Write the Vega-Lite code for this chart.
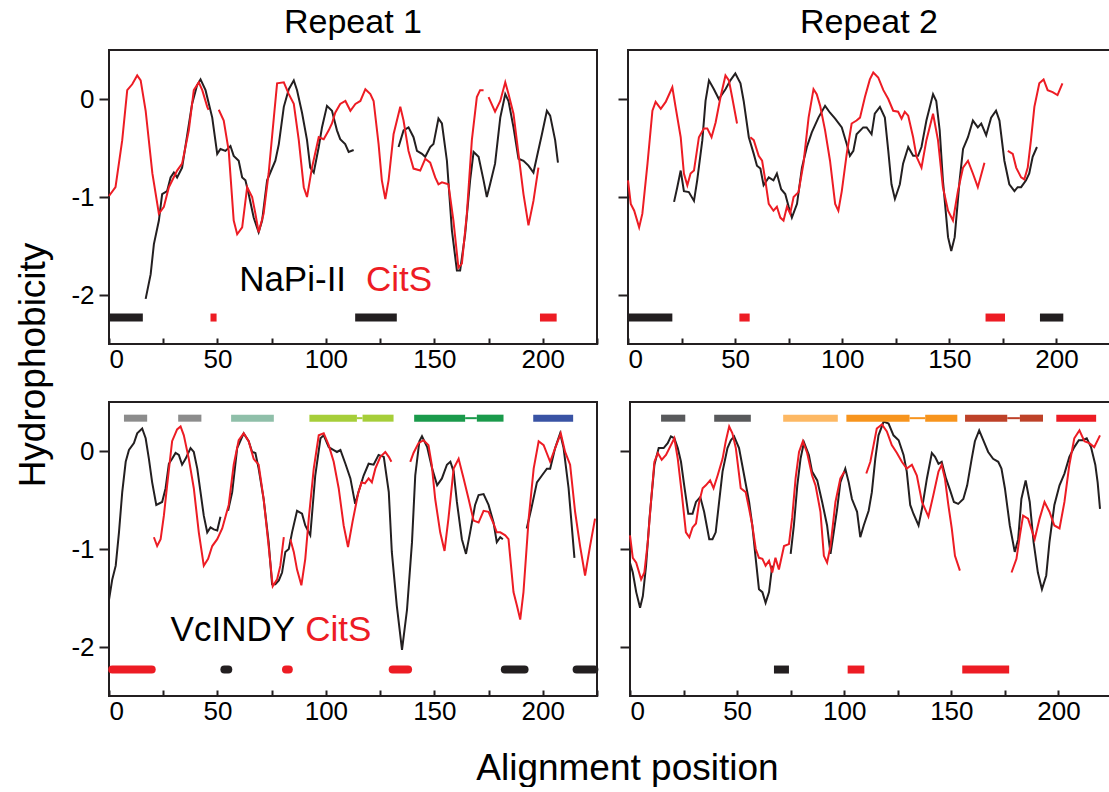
{
"$schema": "https://vega.github.io/schema/vega-lite/v6.json",
"background": "white",
"padding": {"left": 14, "top": 5, "right": 0, "bottom": 0},
"config": {
  "font": "Liberation Sans",
  "view": {"stroke": "#231f20", "strokeWidth": 2},
  "axis": {"grid": false, "domain": false, "labelFont": "Liberation Sans", "labelFontSize": 26, "labelColor": "#000", "tickColor": "#231f20", "tickWidth": 2, "labelOverlap": false},
  "title": {"font": "Liberation Sans", "fontWeight": "normal", "color": "#000"}
},
"datasets": {
"tl": [
{"g":"k1","x":16.9,"y":-2.04},{"g":"k1","x":19.2,"y":-1.79},{"g":"k1","x":20.7,"y":-1.48},{"g":"k1","x":23,"y":-1.24},{"g":"k1","x":24.5,"y":-0.97},{"g":"k1","x":26.8,"y":-0.94},{"g":"k1","x":28.4,"y":-0.8},{"g":"k1","x":29.9,"y":-0.75},{"g":"k1","x":31.4,"y":-0.8},{"g":"k1","x":33.7,"y":-0.7},{"g":"k1","x":36.1,"y":-0.36},{"g":"k1","x":38.3,"y":-0.05},{"g":"k1","x":40.6,"y":0.14},{"g":"k1","x":42.2,"y":0.2},{"g":"k1","x":44.5,"y":0.09},{"g":"k1","x":47.6,"y":-0.19},{"g":"k1","x":49.9,"y":-0.56},{"g":"k1","x":51.4,"y":-0.51},{"g":"k1","x":53.7,"y":-0.53},{"g":"k1","x":56,"y":-0.48},{"g":"k1","x":57.5,"y":-0.58},{"g":"k1","x":59.8,"y":-0.63},{"g":"k1","x":61.4,"y":-0.8},{"g":"k1","x":62.9,"y":-0.83},{"g":"k1","x":64.4,"y":-0.97},{"g":"k1","x":66.7,"y":-1.21},{"g":"k1","x":69,"y":-1.36},{"g":"k1","x":70.6,"y":-1.24},{"g":"k1","x":72.9,"y":-0.83},{"g":"k1","x":74.4,"y":-0.75},{"g":"k1","x":76.7,"y":-0.63},{"g":"k1","x":78.3,"y":-0.46},{"g":"k1","x":80.6,"y":-0.08},{"g":"k1","x":82.9,"y":0.1},{"g":"k1","x":85.2,"y":0.19},{"g":"k1","x":86.7,"y":0.09},{"g":"k1","x":89,"y":-0.14},{"g":"k1","x":91.3,"y":-0.42},{"g":"k1","x":92.8,"y":-0.7},{"g":"k1","x":94.4,"y":-0.75},{"g":"k1","x":96.7,"y":-0.49},{"g":"k1","x":98.2,"y":-0.29},{"g":"k1","x":100.5,"y":-0.07},{"g":"k1","x":102.8,"y":-0.12},{"g":"k1","x":105.1,"y":-0.32},{"g":"k1","x":106.6,"y":-0.41},{"g":"k1","x":108.9,"y":-0.46},{"g":"k1","x":110.5,"y":-0.54},{"g":"k1","x":112.8,"y":-0.52},
{"g":"k2","x":133.5,"y":-0.49},{"g":"k2","x":135.8,"y":-0.32},{"g":"k2","x":138.1,"y":-0.29},{"g":"k2","x":140.4,"y":-0.39},{"g":"k2","x":142,"y":-0.53},{"g":"k2","x":144.3,"y":-0.56},{"g":"k2","x":145.8,"y":-0.59},{"g":"k2","x":148.1,"y":-0.49},{"g":"k2","x":149.6,"y":-0.46},{"g":"k2","x":151.9,"y":-0.2},{"g":"k2","x":153.5,"y":-0.25},{"g":"k2","x":155.8,"y":-0.63},{"g":"k2","x":158.1,"y":-1.34},{"g":"k2","x":160.4,"y":-1.75},{"g":"k2","x":161.9,"y":-1.75},{"g":"k2","x":164.2,"y":-1.38},{"g":"k2","x":166.5,"y":-0.83},{"g":"k2","x":168.1,"y":-0.54},{"g":"k2","x":170.4,"y":-0.59},{"g":"k2","x":172.7,"y":-0.83},{"g":"k2","x":174.2,"y":-1.0},{"g":"k2","x":175.7,"y":-0.87},{"g":"k2","x":178,"y":-0.66},{"g":"k2","x":180.4,"y":-0.19},{"g":"k2","x":182.7,"y":0.05},{"g":"k2","x":184.2,"y":-0.02},{"g":"k2","x":186.5,"y":-0.29},{"g":"k2","x":188.8,"y":-0.61},{"g":"k2","x":191.1,"y":-0.63},{"g":"k2","x":193.4,"y":-0.68},{"g":"k2","x":195.7,"y":-0.75},{"g":"k2","x":197.3,"y":-0.59},{"g":"k2","x":199.6,"y":-0.36},{"g":"k2","x":201.9,"y":-0.12},{"g":"k2","x":203.4,"y":-0.17},{"g":"k2","x":205.7,"y":-0.42},{"g":"k2","x":207,"y":-0.65},
{"g":"r1","x":0,"y":-0.99},{"g":"r1","x":3,"y":-0.9},{"g":"r1","x":6.1,"y":-0.42},{"g":"r1","x":8.4,"y":0.09},{"g":"r1","x":10.7,"y":0.15},{"g":"r1","x":13,"y":0.24},{"g":"r1","x":14.6,"y":0.19},{"g":"r1","x":16.9,"y":-0.12},{"g":"r1","x":20,"y":-0.76},{"g":"r1","x":23,"y":-1.17},{"g":"r1","x":25.3,"y":-1.1},{"g":"r1","x":27.6,"y":-0.9},{"g":"r1","x":31.4,"y":-0.73},{"g":"r1","x":33.7,"y":-0.66},{"g":"r1","x":36.8,"y":-0.32},{"g":"r1","x":39.1,"y":0.09},{"g":"r1","x":41.4,"y":0.17},{"g":"r1","x":43,"y":0.09},{"g":"r1","x":45.3,"y":-0.08},{"g":"r1","x":45.9,"y":-0.11},
{"g":"r2","x":50.6,"y":-0.11},{"g":"r2","x":52.9,"y":-0.22},{"g":"r2","x":55.2,"y":-0.53},{"g":"r2","x":57.5,"y":-1.24},{"g":"r2","x":59.1,"y":-1.38},{"g":"r2","x":61.4,"y":-1.31},{"g":"r2","x":63.7,"y":-0.9},{"g":"r2","x":66,"y":-1.0},{"g":"r2","x":67.5,"y":-1.17},{"g":"r2","x":69,"y":-1.36},{"g":"r2","x":71.3,"y":-1.17},{"g":"r2","x":73.6,"y":-0.76},{"g":"r2","x":76,"y":-0.19},{"g":"r2","x":77.5,"y":0.16},{"g":"r2","x":80.6,"y":0.17},{"g":"r2","x":82.9,"y":0.05},{"g":"r2","x":85.2,"y":-0.05},{"g":"r2","x":87.5,"y":-0.42},{"g":"r2","x":89.8,"y":-0.9},{"g":"r2","x":91.3,"y":-1.0},{"g":"r2","x":93.6,"y":-0.7},{"g":"r2","x":96.7,"y":-0.39},{"g":"r2","x":99,"y":-0.41},{"g":"r2","x":101.3,"y":-0.32},{"g":"r2","x":102.8,"y":-0.25},{"g":"r2","x":104.3,"y":-0.14},{"g":"r2","x":106.6,"y":-0.05},{"g":"r2","x":109,"y":-0.02},{"g":"r2","x":111.3,"y":-0.12},{"g":"r2","x":113.6,"y":-0.05},{"g":"r2","x":115.9,"y":-0.02},{"g":"r2","x":118.2,"y":0.1},{"g":"r2","x":120.5,"y":0.05},{"g":"r2","x":122,"y":-0.02},{"g":"r2","x":124.3,"y":-0.46},{"g":"r2","x":125.8,"y":-0.83},{"g":"r2","x":127.4,"y":-1.02},{"g":"r2","x":128.9,"y":-0.83},{"g":"r2","x":131.2,"y":-0.36},{"g":"r2","x":134.3,"y":-0.08},{"g":"r2","x":135.8,"y":-0.22},{"g":"r2","x":138.1,"y":-0.53},{"g":"r2","x":140.4,"y":-0.71},{"g":"r2","x":143.5,"y":-0.73},{"g":"r2","x":145.8,"y":-0.61},{"g":"r2","x":148.1,"y":-0.65},{"g":"r2","x":150.4,"y":-0.8},{"g":"r2","x":151.9,"y":-0.87},{"g":"r2","x":153.5,"y":-0.85},{"g":"r2","x":156.5,"y":-0.87},{"g":"r2","x":158.8,"y":-1.24},{"g":"r2","x":161.1,"y":-1.72},{"g":"r2","x":162.7,"y":-1.68},{"g":"r2","x":165,"y":-1.17},{"g":"r2","x":167.3,"y":-0.42},{"g":"r2","x":169.6,"y":0.02},{"g":"r2","x":171.1,"y":0.09},{"g":"r2","x":172.7,"y":0.09},
{"g":"r3","x":175,"y":0.02},{"g":"r3","x":178,"y":-0.13},{"g":"r3","x":180.4,"y":-0.02},{"g":"r3","x":182.7,"y":0.17},{"g":"r3","x":184.2,"y":0.05},{"g":"r3","x":186.5,"y":-0.15},{"g":"r3","x":188.8,"y":-0.56},{"g":"r3","x":191.1,"y":-0.97},{"g":"r3","x":193.4,"y":-1.29},{"g":"r3","x":195.7,"y":-1.04},{"g":"r3","x":198,"y":-0.7}
],
"tr": [
{"g":"k1","x":21.5,"y":-1.05},{"g":"k1","x":23,"y":-0.9},{"g":"k1","x":24.6,"y":-0.73},{"g":"k1","x":26.1,"y":-0.94},{"g":"k1","x":28.4,"y":-0.95},{"g":"k1","x":30.8,"y":-1.04},{"g":"k1","x":32.3,"y":-0.83},{"g":"k1","x":34.7,"y":-0.42},{"g":"k1","x":36.2,"y":-0.02},{"g":"k1","x":37.8,"y":0.19},{"g":"k1","x":40.1,"y":0.1},{"g":"k1","x":42.4,"y":0.0},{"g":"k1","x":45.5,"y":0.1},{"g":"k1","x":47.8,"y":0.19},{"g":"k1","x":50.1,"y":0.26},{"g":"k1","x":52.5,"y":0.16},{"g":"k1","x":54,"y":-0.02},{"g":"k1","x":56.4,"y":-0.39},{"g":"k1","x":58.7,"y":-0.56},{"g":"k1","x":60.2,"y":-0.68},{"g":"k1","x":61.8,"y":-0.71},{"g":"k1","x":63.3,"y":-0.88},{"g":"k1","x":65.7,"y":-0.8},{"g":"k1","x":67.9,"y":-0.83},{"g":"k1","x":69.5,"y":-0.76},{"g":"k1","x":71.5,"y":-0.92},{"g":"k1","x":73.4,"y":-0.97},{"g":"k1","x":75,"y":-1.1},{"g":"k1","x":76.5,"y":-1.21},{"g":"k1","x":78.9,"y":-1.07},{"g":"k1","x":81.2,"y":-0.7},{"g":"k1","x":83.5,"y":-0.49},{"g":"k1","x":85.8,"y":-0.34},{"g":"k1","x":88.9,"y":-0.19},{"g":"k1","x":92,"y":-0.07},{"g":"k1","x":94.3,"y":-0.14},{"g":"k1","x":96.7,"y":-0.2},{"g":"k1","x":99.8,"y":-0.29},{"g":"k1","x":102.1,"y":-0.46},{"g":"k1","x":103.6,"y":-0.58},{"g":"k1","x":105.2,"y":-0.53},{"g":"k1","x":106.7,"y":-0.36},{"g":"k1","x":109.8,"y":-0.29},{"g":"k1","x":111.4,"y":-0.29},{"g":"k1","x":113.7,"y":-0.36},{"g":"k1","x":115.2,"y":-0.15},{"g":"k1","x":117.6,"y":-0.08},{"g":"k1","x":119.9,"y":-0.19},{"g":"k1","x":121.5,"y":-0.53},{"g":"k1","x":123,"y":-0.87},{"g":"k1","x":124.6,"y":-1.02},{"g":"k1","x":126.9,"y":-0.87},{"g":"k1","x":128.4,"y":-0.66},{"g":"k1","x":130.8,"y":-0.49},{"g":"k1","x":133.1,"y":-0.58},{"g":"k1","x":135.4,"y":-0.58},{"g":"k1","x":137,"y":-0.49},{"g":"k1","x":139.3,"y":-0.22},{"g":"k1","x":142.4,"y":0.05},{"g":"k1","x":143.9,"y":-0.02},{"g":"k1","x":145.5,"y":-0.32},{"g":"k1","x":147,"y":-0.83},{"g":"k1","x":149.4,"y":-1.41},{"g":"k1","x":150.9,"y":-1.55},{"g":"k1","x":152.5,"y":-1.41},{"g":"k1","x":154.8,"y":-0.83},{"g":"k1","x":156.4,"y":-0.51},{"g":"k1","x":158.7,"y":-0.39},{"g":"k1","x":161,"y":-0.22},{"g":"k1","x":163.3,"y":-0.29},{"g":"k1","x":164.9,"y":-0.25},{"g":"k1","x":167.2,"y":-0.37},{"g":"k1","x":169.5,"y":-0.19},{"g":"k1","x":171.8,"y":-0.12},{"g":"k1","x":173.4,"y":-0.22},{"g":"k1","x":175.7,"y":-0.63},{"g":"k1","x":178,"y":-0.87},{"g":"k1","x":180.4,"y":-0.94},{"g":"k1","x":181.9,"y":-0.9},{"g":"k1","x":183.5,"y":-0.9},{"g":"k1","x":185.8,"y":-0.83},{"g":"k1","x":187.3,"y":-0.76},{"g":"k1","x":188.9,"y":-0.59},{"g":"k1","x":190.9,"y":-0.49},
{"g":"r1","x":0,"y":-0.83},{"g":"r1","x":1.3,"y":-1.07},{"g":"r1","x":2.9,"y":-1.14},{"g":"r1","x":5.2,"y":-1.31},{"g":"r1","x":6.7,"y":-1.17},{"g":"r1","x":9.1,"y":-0.66},{"g":"r1","x":11.4,"y":-0.12},{"g":"r1","x":12.9,"y":-0.03},{"g":"r1","x":15.3,"y":-0.1},{"g":"r1","x":17.6,"y":-0.03},{"g":"r1","x":20.7,"y":0.12},{"g":"r1","x":22.2,"y":-0.08},{"g":"r1","x":24.6,"y":-0.39},{"g":"r1","x":26.1,"y":-0.76},{"g":"r1","x":27.7,"y":-0.88},{"g":"r1","x":29.2,"y":-0.76},{"g":"r1","x":30.8,"y":-0.73},{"g":"r1","x":33.1,"y":-0.39},{"g":"r1","x":35.4,"y":-0.3},{"g":"r1","x":37,"y":-0.3},{"g":"r1","x":39,"y":-0.39},{"g":"r1","x":40.9,"y":-0.24},{"g":"r1","x":43.2,"y":0.02},{"g":"r1","x":45.5,"y":0.24},{"g":"r1","x":47.1,"y":0.19},{"g":"r1","x":48.6,"y":0.02},{"g":"r1","x":50.9,"y":-0.25},
{"g":"r2","x":57.1,"y":-0.39},{"g":"r2","x":58.7,"y":-0.42},{"g":"r2","x":61,"y":-0.58},{"g":"r2","x":62.6,"y":-0.63},{"g":"r2","x":64.1,"y":-0.83},{"g":"r2","x":65.7,"y":-1.07},{"g":"r2","x":67.9,"y":-1.14},{"g":"r2","x":69.5,"y":-1.1},{"g":"r2","x":71.1,"y":-1.21},{"g":"r2","x":72.6,"y":-1.24},{"g":"r2","x":74.2,"y":-1.1},{"g":"r2","x":75.7,"y":-1.17},{"g":"r2","x":77.3,"y":-1.0},{"g":"r2","x":79.6,"y":-0.95},{"g":"r2","x":81.9,"y":-0.66},{"g":"r2","x":84.3,"y":-0.19},{"g":"r2","x":86.6,"y":0.1},{"g":"r2","x":88.1,"y":0.05},{"g":"r2","x":89.7,"y":-0.07},{"g":"r2","x":92,"y":-0.32},{"g":"r2","x":94.3,"y":-0.63},{"g":"r2","x":96.7,"y":-1.07},{"g":"r2","x":98.2,"y":-1.14},{"g":"r2","x":99.8,"y":-0.94},{"g":"r2","x":102.1,"y":-0.56},{"g":"r2","x":104.4,"y":-0.25},{"g":"r2","x":106.7,"y":-0.22},{"g":"r2","x":108.3,"y":-0.19},{"g":"r2","x":110.6,"y":0.02},{"g":"r2","x":112.9,"y":0.2},{"g":"r2","x":114.5,"y":0.27},{"g":"r2","x":116.8,"y":0.22},{"g":"r2","x":119.2,"y":0.09},{"g":"r2","x":121.5,"y":0.0},{"g":"r2","x":123.8,"y":-0.12},{"g":"r2","x":126.1,"y":-0.13},{"g":"r2","x":127.7,"y":-0.2},{"g":"r2","x":129.2,"y":-0.13},{"g":"r2","x":130.8,"y":-0.17},{"g":"r2","x":133.1,"y":-0.39},{"g":"r2","x":134.7,"y":-0.59},{"g":"r2","x":137,"y":-0.7},{"g":"r2","x":139.3,"y":-0.42},{"g":"r2","x":142.4,"y":-0.15},{"g":"r2","x":144.7,"y":-0.42},{"g":"r2","x":147,"y":-0.9},{"g":"r2","x":149.4,"y":-1.14},{"g":"r2","x":151.7,"y":-1.24},{"g":"r2","x":154,"y":-0.94},{"g":"r2","x":156.4,"y":-0.7},{"g":"r2","x":158.7,"y":-0.63},{"g":"r2","x":161,"y":-0.76},{"g":"r2","x":163.3,"y":-0.9},{"g":"r2","x":166.4,"y":-0.65},
{"g":"r3","x":177.3,"y":-0.53},{"g":"r3","x":179.6,"y":-0.56},{"g":"r3","x":181.2,"y":-0.7},{"g":"r3","x":183.5,"y":-0.8},{"g":"r3","x":185,"y":-0.82},{"g":"r3","x":186.6,"y":-0.7},{"g":"r3","x":188.1,"y":-0.42},{"g":"r3","x":189.7,"y":-0.08},{"g":"r3","x":192,"y":0.16},{"g":"r3","x":194,"y":0.2},{"g":"r3","x":195.9,"y":0.09},{"g":"r3","x":198.2,"y":0.07},{"g":"r3","x":200.5,"y":0.04},{"g":"r3","x":202.8,"y":0.16}
],
"bl": [
{"g":"k1","x":0,"y":-1.52},{"g":"k1","x":1.5,"y":-1.31},{"g":"k1","x":3.1,"y":-1.17},{"g":"k1","x":4.6,"y":-0.83},{"g":"k1","x":6.1,"y":-0.42},{"g":"k1","x":7.7,"y":-0.11},{"g":"k1","x":9.2,"y":0.01},{"g":"k1","x":11.5,"y":0.08},{"g":"k1","x":13,"y":0.18},{"g":"k1","x":15.3,"y":0.23},{"g":"k1","x":16.9,"y":0.13},{"g":"k1","x":18.4,"y":-0.08},{"g":"k1","x":19.9,"y":-0.32},{"g":"k1","x":21.8,"y":-0.55},{"g":"k1","x":24.5,"y":-0.52},{"g":"k1","x":26.1,"y":-0.38},{"g":"k1","x":27.6,"y":-0.13},{"g":"k1","x":29.1,"y":-0.08},{"g":"k1","x":30.7,"y":-0.02},{"g":"k1","x":32.2,"y":-0.04},{"g":"k1","x":33.7,"y":-0.14},{"g":"k1","x":35.3,"y":-0.08},{"g":"k1","x":37.6,"y":0.03},{"g":"k1","x":39.1,"y":-0.01},{"g":"k1","x":40.7,"y":-0.18},{"g":"k1","x":42.2,"y":-0.42},{"g":"k1","x":43.7,"y":-0.66},{"g":"k1","x":45.3,"y":-0.83},{"g":"k1","x":46.8,"y":-0.78},{"g":"k1","x":48.3,"y":-0.8},{"g":"k1","x":49.9,"y":-0.81},{"g":"k1","x":51.4,"y":-0.67},
{"g":"k2","x":54.9,"y":-0.61},{"g":"k2","x":56.8,"y":-0.42},{"g":"k2","x":59.1,"y":0.03},{"g":"k2","x":62.1,"y":0.18},{"g":"k2","x":64.4,"y":0.1},{"g":"k2","x":66,"y":-0.01},{"g":"k2","x":67.5,"y":-0.02},{"g":"k2","x":69,"y":-0.18},{"g":"k2","x":71.3,"y":-0.49},{"g":"k2","x":73.6,"y":-0.93},{"g":"k2","x":75.2,"y":-1.36},{"g":"k2","x":76.7,"y":-1.36},{"g":"k2","x":78.3,"y":-1.32},{"g":"k2","x":79.8,"y":-1.24},{"g":"k2","x":81.3,"y":-1.03},{"g":"k2","x":82.9,"y":-1.0},{"g":"k2","x":84.4,"y":-0.83},{"g":"k2","x":86.7,"y":-0.61},{"g":"k2","x":89,"y":-0.64},{"g":"k2","x":90.5,"y":-0.76},{"g":"k2","x":92.8,"y":-0.86},{"g":"k2","x":95.1,"y":-0.25},{"g":"k2","x":97.5,"y":0.13},{"g":"k2","x":99,"y":0.16},{"g":"k2","x":101.3,"y":0.04},{"g":"k2","x":103.6,"y":0.01},{"g":"k2","x":105.1,"y":-0.01},{"g":"k2","x":106.7,"y":0.01},{"g":"k2","x":109,"y":-0.13},{"g":"k2","x":111.3,"y":-0.28},{"g":"k2","x":113.5,"y":-0.54},{"g":"k2","x":115,"y":-0.42},{"g":"k2","x":117.4,"y":-0.25},{"g":"k2","x":119.7,"y":-0.13},{"g":"k2","x":122,"y":-0.14},{"g":"k2","x":124.3,"y":-0.04},{"g":"k2","x":126.7,"y":-0.06},{"g":"k2","x":129,"y":-0.42},{"g":"k2","x":130.4,"y":-1.03},{"g":"k2","x":132.7,"y":-1.58},{"g":"k2","x":135.1,"y":-2.03},{"g":"k2","x":137.4,"y":-1.62},{"g":"k2","x":139.7,"y":-0.93},{"g":"k2","x":141.2,"y":-0.25},{"g":"k2","x":143.1,"y":0.1},{"g":"k2","x":144.3,"y":0.15},{"g":"k2","x":146.7,"y":0.04},{"g":"k2","x":149,"y":-0.18},{"g":"k2","x":151.3,"y":-0.35},{"g":"k2","x":153.5,"y":-0.28},{"g":"k2","x":155.8,"y":-0.14},{"g":"k2","x":157.4,"y":-0.11},{"g":"k2","x":158.9,"y":-0.21},{"g":"k2","x":160.4,"y":-0.52},{"g":"k2","x":162.7,"y":-0.9},{"g":"k2","x":164.6,"y":-1.05},{"g":"k2","x":166.5,"y":-0.83},{"g":"k2","x":168.8,"y":-0.55},{"g":"k2","x":170.4,"y":-0.45},{"g":"k2","x":172.7,"y":-0.44},{"g":"k2","x":175,"y":-0.55},{"g":"k2","x":177.3,"y":-0.73},{"g":"k2","x":178.8,"y":-0.93},{"g":"k2","x":180.4,"y":-0.88},{"g":"k2","x":181.6,"y":-0.9},
{"g":"k3","x":192.6,"y":-0.79},{"g":"k3","x":194.9,"y":-0.57},{"g":"k3","x":197.3,"y":-0.32},{"g":"k3","x":199.6,"y":-0.25},{"g":"k3","x":201.9,"y":-0.18},{"g":"k3","x":203.4,"y":-0.18},{"g":"k3","x":205.7,"y":0.03},{"g":"k3","x":208,"y":0.18},{"g":"k3","x":209.6,"y":0.03},{"g":"k3","x":211.9,"y":-0.38},{"g":"k3","x":214.6,"y":-1.09},
{"g":"r1","x":20.7,"y":-0.88},{"g":"r1","x":22.2,"y":-0.97},{"g":"r1","x":23.8,"y":-0.9},{"g":"r1","x":25.3,"y":-0.66},{"g":"r1","x":26.8,"y":-0.35},{"g":"r1","x":29.1,"y":0.1},{"g":"r1","x":31.4,"y":0.22},{"g":"r1","x":33,"y":0.25},{"g":"r1","x":34.5,"y":0.16},{"g":"r1","x":36.8,"y":-0.08},{"g":"r1","x":39.1,"y":-0.38},{"g":"r1","x":41.4,"y":-0.83},{"g":"r1","x":43.7,"y":-1.17},{"g":"r1","x":45.7,"y":-1.1},{"g":"r1","x":47.6,"y":-0.97},{"g":"r1","x":49.9,"y":-0.9},{"g":"r1","x":52.2,"y":-0.79},{"g":"r1","x":55.2,"y":-0.55},{"g":"r1","x":57.5,"y":-0.14},{"g":"r1","x":59.8,"y":0.11},{"g":"r1","x":62.1,"y":0.18},{"g":"r1","x":64.4,"y":0.1},{"g":"r1","x":66.7,"y":-0.08},{"g":"r1","x":69,"y":-0.14},{"g":"r1","x":71.3,"y":-0.49},{"g":"r1","x":73.6,"y":-0.97},{"g":"r1","x":75.5,"y":-1.38},{"g":"r1","x":77.5,"y":-1.31},{"g":"r1","x":79,"y":-1.17},{"g":"r1","x":80.6,"y":-0.88},
{"g":"r2","x":83.6,"y":-0.9},{"g":"r2","x":85.2,"y":-1.03},{"g":"r2","x":86.7,"y":-1.21},{"g":"r2","x":88.7,"y":-1.37},{"g":"r2","x":90.5,"y":-1.1},{"g":"r2","x":92.1,"y":-0.69},{"g":"r2","x":94.4,"y":-0.18},{"g":"r2","x":96.7,"y":0.16},{"g":"r2","x":99,"y":0.18},{"g":"r2","x":101.3,"y":0.06},{"g":"r2","x":103.6,"y":-0.11},{"g":"r2","x":105.9,"y":-0.38},{"g":"r2","x":108.2,"y":-0.76},{"g":"r2","x":110.2,"y":-0.98},{"g":"r2","x":112.3,"y":-0.72},{"g":"r2","x":115,"y":-0.42},{"g":"r2","x":116.5,"y":-0.32},{"g":"r2","x":118,"y":-0.33},{"g":"r2","x":119.7,"y":-0.28},{"g":"r2","x":121.2,"y":-0.32},{"g":"r2","x":122.8,"y":-0.18},{"g":"r2","x":125.1,"y":-0.06},{"g":"r2","x":127.4,"y":-0.01},{"g":"r2","x":129,"y":-0.06},{"g":"r2","x":130.2,"y":-0.11},
{"g":"r3","x":138.9,"y":-0.11},{"g":"r3","x":140.4,"y":-0.02},{"g":"r3","x":142.7,"y":0.08},{"g":"r3","x":145,"y":0.11},{"g":"r3","x":147.3,"y":0.06},{"g":"r3","x":148.8,"y":-0.14},{"g":"r3","x":150.4,"y":-0.49},{"g":"r3","x":152.7,"y":-0.83},{"g":"r3","x":154.7,"y":-1.02},{"g":"r3","x":156.5,"y":-0.69},{"g":"r3","x":158.9,"y":-0.18},{"g":"r3","x":161.2,"y":-0.08},{"g":"r3","x":163.5,"y":-0.28},{"g":"r3","x":165.8,"y":-0.49},{"g":"r3","x":168.1,"y":-0.71},{"g":"r3","x":170.4,"y":-0.73},{"g":"r3","x":172.7,"y":-0.61},{"g":"r3","x":175,"y":-0.62},{"g":"r3","x":177.3,"y":-0.74},{"g":"r3","x":178.8,"y":-0.83},{"g":"r3","x":180.4,"y":-0.83},{"g":"r3","x":182.7,"y":-0.86},{"g":"r3","x":184.2,"y":-0.9},{"g":"r3","x":186.5,"y":-1.44},{"g":"r3","x":188.1,"y":-1.58},{"g":"r3","x":189.6,"y":-1.72},{"g":"r3","x":191.1,"y":-1.44},{"g":"r3","x":193.5,"y":-0.69},{"g":"r3","x":195.8,"y":-0.18},{"g":"r3","x":198.1,"y":0.1},{"g":"r3","x":200.4,"y":0.06},{"g":"r3","x":203.4,"y":-0.11},{"g":"r3","x":205.7,"y":0.03},{"g":"r3","x":208.3,"y":0.18},{"g":"r3","x":210.3,"y":-0.01},{"g":"r3","x":212.6,"y":-0.14},{"g":"r3","x":214.9,"y":-0.62},{"g":"r3","x":217.2,"y":-0.97},{"g":"r3","x":219.5,"y":-1.27},{"g":"r3","x":221.8,"y":-0.97},{"g":"r3","x":224.1,"y":-0.69}
],
"br": [
{"g":"k1","x":0,"y":-1.14},{"g":"k1","x":1.3,"y":-1.24},{"g":"k1","x":2.9,"y":-1.44},{"g":"k1","x":4.7,"y":-1.6},{"g":"k1","x":6,"y":-1.48},{"g":"k1","x":7.5,"y":-1.17},{"g":"k1","x":9.1,"y":-0.69},{"g":"k1","x":11.4,"y":-0.14},{"g":"k1","x":13.4,"y":0.03},{"g":"k1","x":15.7,"y":0.03},{"g":"k1","x":17.6,"y":0.08},{"g":"k1","x":19.1,"y":0.15},{"g":"k1","x":20.7,"y":0.13},{"g":"k1","x":22.3,"y":0.03},{"g":"k1","x":23.8,"y":-0.11},{"g":"k1","x":25.3,"y":-0.35},{"g":"k1","x":27.2,"y":-0.64},{"g":"k1","x":29.2,"y":-0.64},{"g":"k1","x":30.8,"y":-0.52},{"g":"k1","x":32.8,"y":-0.47},{"g":"k1","x":34.6,"y":-0.62},{"g":"k1","x":37,"y":-0.9},{"g":"k1","x":38.5,"y":-0.9},{"g":"k1","x":40,"y":-0.83},{"g":"k1","x":41.6,"y":-0.52},{"g":"k1","x":43.2,"y":-0.21},{"g":"k1","x":45.5,"y":0.03},{"g":"k1","x":47.1,"y":0.11},{"g":"k1","x":48.6,"y":0.15},{"g":"k1","x":50.9,"y":0.03},{"g":"k1","x":53.3,"y":-0.25},{"g":"k1","x":55.6,"y":-0.52},{"g":"k1","x":57.1,"y":-0.76},{"g":"k1","x":58.7,"y":-1.1},{"g":"k1","x":60.2,"y":-1.41},{"g":"k1","x":61.8,"y":-1.44},{"g":"k1","x":63.3,"y":-1.55},{"g":"k1","x":64.9,"y":-1.44},{"g":"k1","x":66.4,"y":-1.17},
{"g":"k2","x":75,"y":-1.05},{"g":"k2","x":76.5,"y":-0.76},{"g":"k2","x":78.1,"y":-0.35},{"g":"k2","x":79.6,"y":-0.08},{"g":"k2","x":81.2,"y":0.09},{"g":"k2","x":83.5,"y":-0.04},{"g":"k2","x":85,"y":-0.21},{"g":"k2","x":87.4,"y":-0.3},{"g":"k2","x":89.7,"y":-0.52},{"g":"k2","x":92,"y":-0.76},{"g":"k2","x":93.6,"y":-1.05},{"g":"k2","x":95.1,"y":-0.83},{"g":"k2","x":96.7,"y":-0.59},{"g":"k2","x":98.2,"y":-0.32},{"g":"k2","x":100.5,"y":-0.18},{"g":"k2","x":102.1,"y":-0.32},{"g":"k2","x":103.6,"y":-0.49},{"g":"k2","x":106,"y":-0.62},{"g":"k2","x":107.5,"y":-0.88},{"g":"k2","x":109.1,"y":-0.76},{"g":"k2","x":111.4,"y":-0.61},{"g":"k2","x":112.9,"y":-0.42},{"g":"k2","x":114.5,"y":-0.08},{"g":"k2","x":116,"y":0.16},{"g":"k2","x":118.4,"y":0.3},{"g":"k2","x":120.7,"y":0.28},{"g":"k2","x":123,"y":0.16},{"g":"k2","x":125.4,"y":0.11},{"g":"k2","x":127.7,"y":-0.04},{"g":"k2","x":129.2,"y":-0.21},{"g":"k2","x":130.8,"y":-0.55},{"g":"k2","x":132.3,"y":-0.64},{"g":"k2","x":134.7,"y":-0.76},{"g":"k2","x":136.3,"y":-0.59},{"g":"k2","x":138.6,"y":-0.28},{"g":"k2","x":140.9,"y":-0.02},{"g":"k2","x":142.4,"y":-0.06},{"g":"k2","x":144,"y":-0.13},{"g":"k2","x":145.5,"y":-0.11},{"g":"k2","x":147.5,"y":-0.28},{"g":"k2","x":149.4,"y":-0.4},{"g":"k2","x":151.2,"y":-0.52},{"g":"k2","x":153.2,"y":-0.54},{"g":"k2","x":155.6,"y":-0.49},{"g":"k2","x":157.4,"y":-0.35},{"g":"k2","x":159.5,"y":-0.08},{"g":"k2","x":161,"y":0.1},{"g":"k2","x":163,"y":0.21},{"g":"k2","x":164.9,"y":0.11},{"g":"k2","x":167.2,"y":-0.01},{"g":"k2","x":169.5,"y":-0.08},{"g":"k2","x":171.9,"y":-0.11},{"g":"k2","x":173.4,"y":-0.18},{"g":"k2","x":175,"y":-0.38},{"g":"k2","x":177.3,"y":-0.76},{"g":"k2","x":179.6,"y":-1.03},{"g":"k2","x":181.2,"y":-0.9},{"g":"k2","x":182.7,"y":-0.49},{"g":"k2","x":184.7,"y":-0.3},{"g":"k2","x":186.6,"y":-0.52},{"g":"k2","x":188.4,"y":-0.93},{"g":"k2","x":190.4,"y":-1.24},{"g":"k2","x":192.3,"y":-1.41},{"g":"k2","x":194.3,"y":-1.27},{"g":"k2","x":195.8,"y":-0.93},{"g":"k2","x":198.1,"y":-0.55},{"g":"k2","x":200.5,"y":-0.35},{"g":"k2","x":202.8,"y":-0.23},{"g":"k2","x":205.1,"y":-0.06},{"g":"k2","x":207.4,"y":0.04},{"g":"k2","x":209.5,"y":0.11},{"g":"k2","x":211.3,"y":0.11},{"g":"k2","x":213.2,"y":0.13},{"g":"k2","x":215.2,"y":0.04},{"g":"k2","x":217.2,"y":-0.14},{"g":"k2","x":218.3,"y":-0.32},{"g":"k2","x":219.4,"y":-0.59},
{"g":"r1","x":0,"y":-0.86},{"g":"r1","x":1.3,"y":-1.09},{"g":"r1","x":2.9,"y":-1.14},{"g":"r1","x":5.2,"y":-1.31},{"g":"r1","x":6.7,"y":-1.24},{"g":"r1","x":8.3,"y":-0.93},{"g":"r1","x":9.9,"y":-0.49},{"g":"r1","x":11.4,"y":-0.11},{"g":"r1","x":13,"y":-0.02},{"g":"r1","x":14.8,"y":-0.09},{"g":"r1","x":16.8,"y":-0.04},{"g":"r1","x":19.1,"y":0.06},{"g":"r1","x":20.7,"y":0.13},{"g":"r1","x":22.3,"y":-0.08},{"g":"r1","x":24.1,"y":-0.42},{"g":"r1","x":26.1,"y":-0.83},{"g":"r1","x":27.7,"y":-0.88},{"g":"r1","x":29.2,"y":-0.78},{"g":"r1","x":30.8,"y":-0.74},{"g":"r1","x":32.3,"y":-0.52},{"g":"r1","x":33.9,"y":-0.38},{"g":"r1","x":35.4,"y":-0.35},{"g":"r1","x":37.4,"y":-0.3},{"g":"r1","x":39,"y":-0.38},{"g":"r1","x":40.9,"y":-0.25},{"g":"r1","x":43.2,"y":-0.08},{"g":"r1","x":44.7,"y":0.1},{"g":"r1","x":46.3,"y":0.25},{"g":"r1","x":47.8,"y":0.18},{"g":"r1","x":49.4,"y":0.03},{"g":"r1","x":51.7,"y":-0.38},{"g":"r1","x":54,"y":-0.42},{"g":"r1","x":55.6,"y":-0.59},{"g":"r1","x":57.1,"y":-0.76},{"g":"r1","x":58.7,"y":-1.0},{"g":"r1","x":60.2,"y":-1.09},{"g":"r1","x":61.8,"y":-1.1},{"g":"r1","x":63.3,"y":-1.17},{"g":"r1","x":64.9,"y":-1.12},{"g":"r1","x":66.4,"y":-1.24},{"g":"r1","x":67.9,"y":-1.09},{"g":"r1","x":69.5,"y":-1.21},{"g":"r1","x":71.9,"y":-0.97},{"g":"r1","x":74.2,"y":-0.95},{"g":"r1","x":75.7,"y":-0.68},{"g":"r1","x":77.3,"y":-0.28},{"g":"r1","x":78.9,"y":-0.01},{"g":"r1","x":80.7,"y":0.1},{"g":"r1","x":82.7,"y":-0.02},{"g":"r1","x":85,"y":-0.25},{"g":"r1","x":86.6,"y":-0.35},{"g":"r1","x":88.9,"y":-0.62},{"g":"r1","x":90.5,"y":-1.07},{"g":"r1","x":92,"y":-1.14},{"g":"r1","x":93.6,"y":-0.97},{"g":"r1","x":95.9,"y":-0.52},{"g":"r1","x":98.2,"y":-0.28},{"g":"r1","x":100.1,"y":-0.21},
{"g":"r2","x":110.3,"y":-0.23},{"g":"r2","x":112.2,"y":-0.11},{"g":"r2","x":113.7,"y":0.06},{"g":"r2","x":115.2,"y":0.23},{"g":"r2","x":117.6,"y":0.27},{"g":"r2","x":119.9,"y":0.2},{"g":"r2","x":122.2,"y":0.06},{"g":"r2","x":124.6,"y":-0.02},{"g":"r2","x":126.9,"y":-0.11},{"g":"r2","x":129.2,"y":-0.18},{"g":"r2","x":131.6,"y":-0.14},{"g":"r2","x":133.9,"y":-0.25},{"g":"r2","x":136.3,"y":-0.52},{"g":"r2","x":139.3,"y":-0.67},{"g":"r2","x":141.6,"y":-0.45},{"g":"r2","x":144,"y":-0.21},{"g":"r2","x":145.5,"y":-0.14},{"g":"r2","x":147,"y":-0.28},{"g":"r2","x":148.6,"y":-0.55},{"g":"r2","x":150.2,"y":-0.79},{"g":"r2","x":151.7,"y":-1.07},{"g":"r2","x":154,"y":-1.22},
{"g":"r3","x":178.1,"y":-1.24},{"g":"r3","x":180.4,"y":-1.1},{"g":"r3","x":182,"y":-0.86},{"g":"r3","x":183.5,"y":-0.66},{"g":"r3","x":185.8,"y":-0.69},{"g":"r3","x":188.9,"y":-0.9},{"g":"r3","x":191.2,"y":-0.69},{"g":"r3","x":193.5,"y":-0.52},{"g":"r3","x":195.8,"y":-0.62},{"g":"r3","x":198.1,"y":-0.76},{"g":"r3","x":200.5,"y":-0.79},{"g":"r3","x":202.8,"y":-0.52},{"g":"r3","x":205.1,"y":-0.14},{"g":"r3","x":207.4,"y":0.13},{"g":"r3","x":209.8,"y":0.21},{"g":"r3","x":212.1,"y":0.1},{"g":"r3","x":214.4,"y":0.08},{"g":"r3","x":216.7,"y":0.04},{"g":"r3","x":219.4,"y":0.16}
],
"tlb": [{"g":"k","a":0,"b":15.6},{"g":"r","a":46.8,"b":49.6},{"g":"k","a":113.5,"b":132.7},{"g":"r","a":198.7,"b":206.4}],
"trb": [{"g":"k","a":0,"b":20.7},{"g":"r","a":52,"b":56.8},{"g":"r","a":166.9,"b":176},{"g":"k","a":192.3,"b":203.2}],
"blb": [{"g":"r","a":1.5,"b":19.7},{"g":"k","a":53.2,"b":55},{"g":"r","a":81.6,"b":82.9},{"g":"r","a":130.8,"b":137.9},{"g":"k","a":182.5,"b":191.6},{"g":"k","a":215.6,"b":223.8}],
"brb": [{"g":"k","a":67.2,"b":74.2},{"g":"r","a":101.6,"b":109.4},{"g":"r","a":155.1,"b":177}],
"blt": [{"c":"gray","k":"bar","a":6.9,"b":17.6},{"c":"gray","k":"bar","a":31.9,"b":42.6},{"c":"teal","k":"bar","a":56.3,"b":76},{"c":"lgreen","k":"bar","a":92.4,"b":114.3},{"c":"lgreen","k":"link","a":114.3,"b":116.9},{"c":"lgreen","k":"bar","a":116.9,"b":131.2},{"c":"dgreen","k":"bar","a":140.7,"b":164.2},{"c":"dgreen","k":"link","a":164.2,"b":169.6},{"c":"dgreen","k":"bar","a":169.6,"b":181.9},{"c":"blue","k":"bar","a":195.6,"b":214}],
"brt": [{"c":"dgray","k":"bar","a":14.5,"b":25.8},{"c":"dgray","k":"bar","a":39.3,"b":56.4},{"c":"lorange","k":"bar","a":71.5,"b":97},{"c":"orange","k":"bar","a":101,"b":130.5},{"c":"orange","k":"link","a":130.5,"b":137.8},{"c":"orange","k":"bar","a":137.8,"b":152.8},{"c":"brown","k":"bar","a":156.4,"b":176.1},{"c":"brown","k":"link","a":176.1,"b":182},{"c":"brown","k":"bar","a":182,"b":192.8},{"c":"red","k":"bar","a":199,"b":217.6}],
"tlt": [{"t":"NaPi-II","g":"k","x":60,"y":-1.96},{"t":"CitS","g":"r","x":118.5,"y":-1.96}],
"blx": [{"t":"VcINDY","g":"k","x":28.4,"y":-1.94},{"t":"CitS","g":"r","x":90.5,"y":-1.94}]
},
"title": {"text": "Alignment position", "orient": "bottom", "anchor": "middle", "fontSize": 37, "offset": 26, "dx": 63},
"vconcat": [{
 "title": {"text": "Hydrophobicity", "orient": "left", "anchor": "middle", "fontSize": 37, "offset": 17},
 "spacing": 28,
 "vconcat": [
  {"spacing": 17, "hconcat": [
   {"width": 488, "height": 294, "title": {"text": "Repeat 1", "fontSize": 34, "anchor": "middle", "frame": "group", "offset": 10},
    "layer": [
     {"data": {"name": "tl"}, "mark": {"type": "line", "strokeWidth": 2}, "encoding": {
       "x": {"field": "x", "type": "quantitative", "scale": {"domain": [0,225], "nice": false, "zero": false}, "axis": {"title": null, "values": [0,25,50,75,100,125,150,175,200,225], "tickSize": -6, "labelPadding": 8, "labelExpr": "datum.value % 50 === 0 ? datum.label : ''"}},
       "y": {"field": "y", "type": "quantitative", "scale": {"domain": [-2.5,0.5], "nice": false, "zero": false}, "axis": {"title": null, "values": [-2,-1,0], "tickSize": 10, "labelPadding": 5, "labelExpr": "datum.value < 0 ? '-' + abs(datum.value) : '' + datum.value"}},
       "stroke": {"field": "g", "type": "nominal", "scale": {"domain": ["k1","k2","k3","r1","r2","r3","k","r"], "range": ["#231f20","#231f20","#231f20","#ed1c24","#ed1c24","#ed1c24","#231f20","#ed1c24"]}, "legend": null}}},
     {"data": {"name": "tlb"}, "mark": {"type": "rule", "strokeWidth": 8}, "encoding": {
       "x": {"field": "a", "type": "quantitative"}, "x2": {"field": "b"}, "y": {"datum": -2.23, "type": "quantitative"},
       "stroke": {"field": "g", "type": "nominal", "scale": {"domain": ["k1","k2","k3","r1","r2","r3","k","r"], "range": ["#231f20","#231f20","#231f20","#ed1c24","#ed1c24","#ed1c24","#231f20","#ed1c24"]}, "legend": null}}},
     {"data": {"name": "tlt"}, "mark": {"type": "text", "align": "left", "baseline": "alphabetic", "fontSize": 35, "font": "Liberation Sans"}, "encoding": {
       "x": {"field": "x", "type": "quantitative"}, "y": {"field": "y", "type": "quantitative"}, "text": {"field": "t"},
       "fill": {"field": "g", "type": "nominal", "scale": {"domain": ["k","r"], "range": ["#000000","#ed1c24"]}, "legend": null}}}
    ]},
   {"width": 482, "height": 294, "title": {"text": "Repeat 2", "fontSize": 34, "anchor": "middle", "frame": "group", "offset": 10},
    "layer": [
     {"data": {"name": "tr"}, "mark": {"type": "line", "strokeWidth": 2}, "encoding": {
       "x": {"field": "x", "type": "quantitative", "scale": {"domain": [0,225], "nice": false, "zero": false}, "axis": {"title": null, "values": [0,25,50,75,100,125,150,175,200,225], "tickSize": -6, "labelPadding": 8, "labelExpr": "datum.value % 50 === 0 ? datum.label : ''"}},
       "y": {"field": "y", "type": "quantitative", "scale": {"domain": [-2.5,0.5], "nice": false, "zero": false}, "axis": {"title": null, "values": [-2,-1,0], "tickSize": 10, "labels": false}},
       "stroke": {"field": "g", "type": "nominal", "scale": {"domain": ["k1","k2","k3","r1","r2","r3","k","r"], "range": ["#231f20","#231f20","#231f20","#ed1c24","#ed1c24","#ed1c24","#231f20","#ed1c24"]}, "legend": null}}},
     {"data": {"name": "trb"}, "mark": {"type": "rule", "strokeWidth": 8}, "encoding": {
       "x": {"field": "a", "type": "quantitative"}, "x2": {"field": "b"}, "y": {"datum": -2.23, "type": "quantitative"},
       "stroke": {"field": "g", "type": "nominal", "scale": {"domain": ["k1","k2","k3","r1","r2","r3","k","r"], "range": ["#231f20","#231f20","#231f20","#ed1c24","#ed1c24","#ed1c24","#231f20","#ed1c24"]}, "legend": null}}}
    ]}
  ]},
  {"spacing": 17, "hconcat": [
   {"width": 488, "height": 294,
    "layer": [
     {"data": {"name": "bl"}, "mark": {"type": "line", "strokeWidth": 2}, "encoding": {
       "x": {"field": "x", "type": "quantitative", "scale": {"domain": [0,225], "nice": false, "zero": false}, "axis": {"title": null, "values": [0,25,50,75,100,125,150,175,200,225], "tickSize": -6, "labelPadding": 8, "labelExpr": "datum.value % 50 === 0 ? datum.label : ''"}},
       "y": {"field": "y", "type": "quantitative", "scale": {"domain": [-2.5,0.5], "nice": false, "zero": false}, "axis": {"title": null, "values": [-2,-1,0], "tickSize": 10, "labelPadding": 5, "labelExpr": "datum.value < 0 ? '-' + abs(datum.value) : '' + datum.value"}},
       "stroke": {"field": "g", "type": "nominal", "scale": {"domain": ["k1","k2","k3","r1","r2","r3","k","r"], "range": ["#231f20","#231f20","#231f20","#ed1c24","#ed1c24","#ed1c24","#231f20","#ed1c24"]}, "legend": null}}},
     {"data": {"name": "blb"}, "mark": {"type": "rule", "strokeWidth": 8, "strokeCap": "round"}, "encoding": {
       "x": {"field": "a", "type": "quantitative"}, "x2": {"field": "b"}, "y": {"datum": -2.23, "type": "quantitative"},
       "stroke": {"field": "g", "type": "nominal", "scale": {"domain": ["k1","k2","k3","r1","r2","r3","k","r"], "range": ["#231f20","#231f20","#231f20","#ed1c24","#ed1c24","#ed1c24","#231f20","#ed1c24"]}, "legend": null}}},
     {"data": {"name": "blt"}, "mark": {"type": "rule"}, "encoding": {
       "x": {"field": "a", "type": "quantitative"}, "x2": {"field": "b"}, "y": {"datum": 0.335, "type": "quantitative"},
       "color": {"field": "c", "type": "nominal", "scale": {"domain": ["gray","teal","lgreen","dgreen","blue","dgray","lorange","orange","brown","red"], "range": ["#8c8c8c","#8fbfa9","#a6ce39","#1a9a4b","#3953a4","#58595b","#fdb863","#f7941d","#be4128","#ed1c24"]}, "legend": null},
       "strokeWidth": {"field": "k", "type": "nominal", "scale": {"domain": ["bar","link"], "range": [7,2]}, "legend": null}}},
     {"data": {"name": "blx"}, "mark": {"type": "text", "align": "left", "baseline": "alphabetic", "fontSize": 35, "font": "Liberation Sans"}, "encoding": {
       "x": {"field": "x", "type": "quantitative"}, "y": {"field": "y", "type": "quantitative"}, "text": {"field": "t"},
       "fill": {"field": "g", "type": "nominal", "scale": {"domain": ["k","r"], "range": ["#000000","#ed1c24"]}, "legend": null}}}
    ]},
   {"width": 482, "height": 294,
    "layer": [
     {"data": {"name": "br"}, "mark": {"type": "line", "strokeWidth": 2}, "encoding": {
       "x": {"field": "x", "type": "quantitative", "scale": {"domain": [0,225], "nice": false, "zero": false}, "axis": {"title": null, "values": [0,25,50,75,100,125,150,175,200,225], "tickSize": -6, "labelPadding": 8, "labelExpr": "datum.value % 50 === 0 ? datum.label : ''"}},
       "y": {"field": "y", "type": "quantitative", "scale": {"domain": [-2.5,0.5], "nice": false, "zero": false}, "axis": {"title": null, "values": [-2,-1,0], "tickSize": 10, "labels": false}},
       "stroke": {"field": "g", "type": "nominal", "scale": {"domain": ["k1","k2","k3","r1","r2","r3","k","r"], "range": ["#231f20","#231f20","#231f20","#ed1c24","#ed1c24","#ed1c24","#231f20","#ed1c24"]}, "legend": null}}},
     {"data": {"name": "brb"}, "mark": {"type": "rule", "strokeWidth": 8}, "encoding": {
       "x": {"field": "a", "type": "quantitative"}, "x2": {"field": "b"}, "y": {"datum": -2.23, "type": "quantitative"},
       "stroke": {"field": "g", "type": "nominal", "scale": {"domain": ["k1","k2","k3","r1","r2","r3","k","r"], "range": ["#231f20","#231f20","#231f20","#ed1c24","#ed1c24","#ed1c24","#231f20","#ed1c24"]}, "legend": null}}},
     {"data": {"name": "brt"}, "mark": {"type": "rule"}, "encoding": {
       "x": {"field": "a", "type": "quantitative"}, "x2": {"field": "b"}, "y": {"datum": 0.335, "type": "quantitative"},
       "color": {"field": "c", "type": "nominal", "scale": {"domain": ["gray","teal","lgreen","dgreen","blue","dgray","lorange","orange","brown","red"], "range": ["#8c8c8c","#8fbfa9","#a6ce39","#1a9a4b","#3953a4","#58595b","#fdb863","#f7941d","#be4128","#ed1c24"]}, "legend": null},
       "strokeWidth": {"field": "k", "type": "nominal", "scale": {"domain": ["bar","link"], "range": [7,2]}, "legend": null}}}
    ]}
  ]}
 ]
}]
}
